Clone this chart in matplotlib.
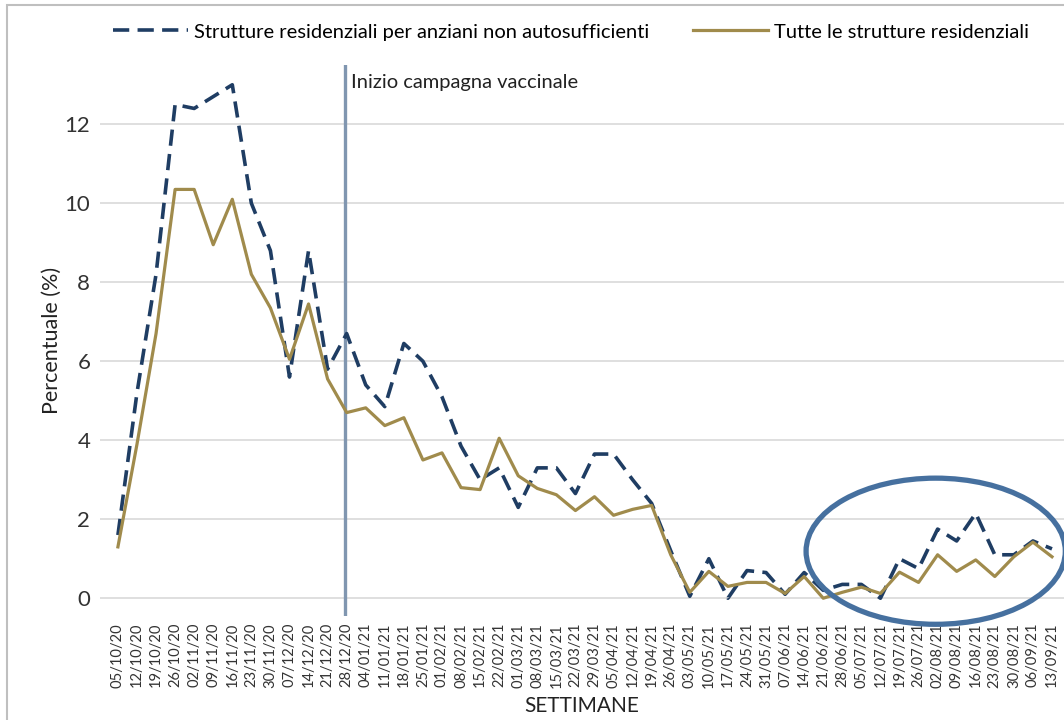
import matplotlib
matplotlib.use("Agg")
import matplotlib.pyplot as plt
from matplotlib.patches import Ellipse, Rectangle

plt.rcParams['font.family'] = ['Lato', 'DejaVu Sans']

# settimane (lunedi di ogni settimana)
settimane = ["05/10/20", "12/10/20", "19/10/20", "26/10/20", "02/11/20", "09/11/20",
             "16/11/20", "23/11/20", "30/11/20", "07/12/20", "14/12/20", "21/12/20",
             "28/12/20", "04/01/21", "11/01/21", "18/01/21", "25/01/21", "01/02/21",
             "08/02/21", "15/02/21", "22/02/21", "01/03/21", "08/03/21", "15/03/21",
             "22/03/21", "29/03/21", "05/04/21", "12/04/21", "19/04/21", "26/04/21",
             "03/05/21", "10/05/21", "17/05/21", "24/05/21", "31/05/21", "07/06/21",
             "14/06/21", "21/06/21", "28/06/21", "05/07/21", "12/07/21", "19/07/21",
             "26/07/21", "02/08/21", "09/08/21", "16/08/21", "23/08/21", "30/08/21",
             "06/09/21", "13/09/21"]

# strutture residenziali per anziani non autosufficienti (%)
rsa = [1.6, 5.2, 8.2, 12.5, 12.4, 12.7, 13.0, 10.0, 8.8, 5.6,
       8.8, 5.8, 6.7, 5.4, 4.85, 6.45, 6.0, 5.1, 3.85, 3.0,
       3.3, 2.3, 3.3, 3.3, 2.65, 3.65, 3.65, 3.0, 2.4, 1.2,
       0.05, 1.0, 0.0, 0.7, 0.65, 0.1, 0.65, 0.2, 0.35, 0.35,
       0.0, 1.0, 0.75, 1.75, 1.45, 2.15, 1.1, 1.1, 1.45, 1.25]

# tutte le strutture residenziali (%)
tutte = [1.3, 3.9, 6.7, 10.35, 10.35, 8.95, 10.1, 8.2, 7.35, 6.05,
         7.45, 5.55, 4.7, 4.82, 4.37, 4.57, 3.5, 3.68, 2.8, 2.75,
         4.05, 3.1, 2.78, 2.62, 2.22, 2.57, 2.1, 2.25, 2.35, 1.1,
         0.15, 0.68, 0.3, 0.4, 0.4, 0.12, 0.55, 0.0, 0.15, 0.28,
         0.12, 0.66, 0.4, 1.1, 0.68, 0.97, 0.55, 1.05, 1.42, 1.05]

inizio_vaccini = 11.9  # posizione della linea "Inizio campagna vaccinale"

fig = plt.figure(figsize=(10.64, 7.2), dpi=100)
ax = fig.add_axes([100/1064, 104/720, 964/1064, 551/720])

x = list(range(len(settimane)))

ax.plot(x, rsa, color='#1f3d63', lw=2.6, linestyle=(0, (4.5, 2.3)),
        label='Strutture residenziali per anziani non autosufficienti', zorder=3)
ax.plot(x, tutte, color='#a08b4c', lw=2.3,
        label='Tutte le strutture residenziali', zorder=3)

# linea verticale inizio vaccinazioni
ax.axvline(inizio_vaccini, color='#8096b0', lw=2.4, zorder=2)
ax.text(inizio_vaccini + 0.35, 13.05, 'Inizio campagna vaccinale', fontsize=14.5,
        color='#222222', va='center', ha='left')

# ellisse di evidenziazione
ell = Ellipse((42.9, 1.19), 13.6, 3.7, fill=False, edgecolor='#46709f',
              lw=3.8, clip_on=False, zorder=4)
ax.add_patch(ell)

ax.set_xlim(-0.94, 49.63)
ax.set_ylim(-0.45, 13.5)
ax.set_yticks([0, 2, 4, 6, 8, 10, 12])
ax.set_xticks(x)
ax.set_xticklabels(settimane, rotation=90, fontsize=10.6, color='#333333')
ax.tick_params(axis='x', length=0, pad=5)
ax.tick_params(axis='y', length=0, pad=7, labelsize=16, labelcolor='#333333')
ax.grid(axis='y', color='#d9d9d9', lw=1.2)
ax.set_axisbelow(True)
for s in ax.spines.values():
    s.set_visible(False)

ax.set_ylabel('Percentuale (%)', fontsize=15.5, color='#222222', labelpad=2)
ax.set_xlabel('SETTIMANE', fontsize=15, color='#222222', labelpad=6)

fig.legend(loc='center', bbox_to_anchor=(571/1064, 1 - 32/720), ncol=2,
           frameon=False, fontsize=14.5, handlelength=3.7, handletextpad=0.3,
           columnspacing=2.2)

# cornice grigia
fig.patches.append(Rectangle((7/1064, -0.1), 1.2, 1.1 - 5/720, transform=fig.transFigure,
                             fill=False, edgecolor='#bfbfbf', lw=1.5))

fig.savefig('out.png', dpi=100)
